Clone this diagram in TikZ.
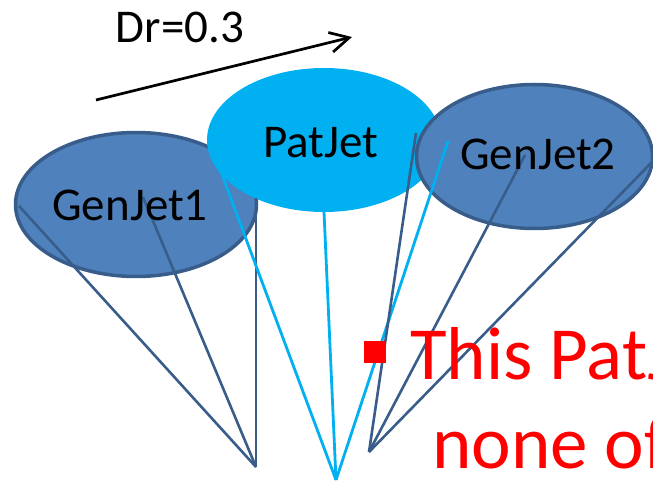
\documentclass[tikz,border=0pt]{standalone}
\usepackage{fontspec}
\setmainfont{Carlito}
\usetikzlibrary{shapes.geometric,arrows.meta}
\definecolor{jetfill}{HTML}{4F81BD}
\definecolor{jetedge}{HTML}{385D8A}
\definecolor{patfill}{HTML}{00B0F0}
\begin{document}
\begin{tikzpicture}[x=1pt,y=-1pt,
  genjet/.style={ellipse, fill=jetfill, draw=jetedge, line width=3.5pt, inner sep=0pt},
  patjet/.style={ellipse, fill=patfill, inner sep=0pt},
  lbl/.style={font=\fontsize{47}{56}\selectfont, inner sep=0pt, anchor=base},
  redtxt/.style={font=\fontsize{75}{90}\selectfont, text=red, inner sep=0pt, anchor=base west},
  darkline/.style={draw=jetedge, line width=2.6pt},
  lightline/.style={draw=patfill, line width=2.8pt},
  dirarrow/.style={draw=black, line width=2.7pt, -{Straight Barb[length=19pt,width=20pt]}}
]
\useasboundingbox (0,0) rectangle (653,481);
\clip (0,0) rectangle (653,481);

% direction arrow
\coordinate (arrS) at (96,100);
\coordinate (arrE) at (352,37);
\draw[dirarrow] (arrS) -- (arrE);
\node[lbl] (dr) at (180,43) {Dr=0.3};

% jets
\node[genjet, minimum width=241pt, minimum height=144pt] (g1) at (136,204.5) {};
\node[patjet, minimum width=234pt, minimum height=144pt] (pj) at (324,140) {};
\node[genjet, minimum width=236pt, minimum height=144pt] (g2) at (534.5,156.5) {};

% apexes
\coordinate (a1) at (256,467);
\coordinate (a2) at (336,480);
\coordinate (a3) at (369,452);

% GenJet1 constituents
\coordinate (g1p1) at (19,206);
\coordinate (g1p2) at (143,197);
\coordinate (g1p3) at (256,198);
\draw[darkline] (g1p1) -- (a1);
\draw[darkline] (g1p2) -- (a1);
\draw[darkline] (g1p3) -- (a1);

% PatJet constituents
\coordinate (pjp1) at (218,164);
\coordinate (pjp2) at (324,212);
\coordinate (pjp3) at (448,141);
\draw[lightline] (pjp1) -- (a2);
\draw[lightline] (pjp2) -- (a2);
\draw[lightline] (pjp3) -- (a2);

% GenJet2 constituents
\coordinate (g2p1) at (416,133);
\coordinate (g2p2) at (525,155);
\coordinate (g2p3) at (652,162);
\draw[darkline] (g2p1) -- (a3);
\draw[darkline] (g2p2) -- (a3);
\draw[darkline] (g2p3) -- (a3);

% labels
\node[lbl] (g1t) at (130,220) {GenJet1};
\node[lbl] (pjt) at (321,158) {PatJet};
\node[lbl] (g2t) at (538,170) {GenJet2};

% red bullet text
\node[fill=red, minimum size=22pt, inner sep=0pt] (bul) at (375,352) {};
\node[redtxt] (t1) at (410,379) {This PatJ};
\node[redtxt] (t2) at (432,468) {none of};
\end{tikzpicture}
\end{document}
